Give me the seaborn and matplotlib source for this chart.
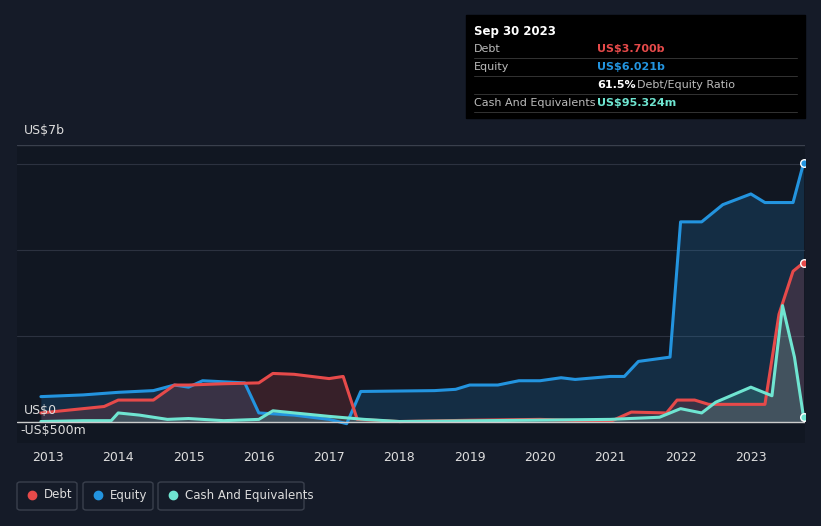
import numpy as np
import pandas as pd
import matplotlib.pyplot as plt
import seaborn as sns
from matplotlib.patches import FancyBboxPatch

eq_t = [2012.9, 2013.5, 2014.0, 2014.5, 2014.8, 2015.0, 2015.2, 2015.8, 2016.0, 2016.5, 2017.0, 2017.25,
        2017.45, 2018.5, 2018.8, 2019.0, 2019.4, 2019.7, 2020.0, 2020.3, 2020.5, 2021.0, 2021.2, 2021.4,
        2021.85, 2022.0, 2022.3, 2022.6, 2023.0, 2023.2, 2023.6, 2023.75]
eq_v = [0.58, 0.62, 0.68, 0.72, 0.85, 0.8, 0.95, 0.9, 0.2, 0.15, 0.05, -0.05,
        0.7, 0.72, 0.75, 0.85, 0.85, 0.95, 0.95, 1.02, 0.98, 1.05, 1.05, 1.4,
        1.5, 4.65, 4.65, 5.05, 5.3, 5.1, 5.1, 6.02]
debt_t = [2012.9, 2013.5, 2013.8, 2014.0, 2014.5, 2014.8, 2015.0, 2015.5, 2016.0, 2016.2, 2016.5, 2017.0,
          2017.2, 2017.4, 2018.0, 2019.0, 2020.0, 2021.0, 2021.3, 2021.8, 2021.95, 2022.2, 2022.4,
          2023.2, 2023.4, 2023.6, 2023.75]
debt_v = [0.2, 0.3, 0.35, 0.5, 0.5, 0.85, 0.85, 0.88, 0.9, 1.12, 1.1, 1.0,
          1.05, 0.05, 0.0, 0.03, 0.05, 0.0, 0.22, 0.2, 0.5, 0.5, 0.4,
          0.4, 2.5, 3.5, 3.7]
cash_t = [2012.9, 2013.5, 2013.9, 2014.0, 2014.3, 2014.7, 2015.0, 2015.5, 2016.0, 2016.2, 2017.0, 2017.5,
          2018.0, 2021.0, 2021.7, 2022.0, 2022.3, 2022.5, 2023.0, 2023.3, 2023.45, 2023.62, 2023.75]
cash_v = [0.0, 0.02, 0.02, 0.2, 0.15, 0.05, 0.07, 0.02, 0.05, 0.25, 0.12, 0.05,
          0.0, 0.05, 0.1, 0.3, 0.2, 0.45, 0.8, 0.6, 2.7, 1.5, 0.095]
years = list(range(2013, 2024))

bg = "#151b28"
plot_bg = "#111722"
c_debt, c_eq, c_cash = "#e64a4a", "#2394df", "#6fe5d1"

sns.set_theme(style="dark")
plt.rcParams['font.family'] = ['DejaVu Sans']
fig = plt.figure(figsize=(8.21, 5.26), dpi=100, facecolor=bg)
ax = fig.add_axes([17/821, 1-443/526, (805-17)/821, (443-145)/526])
ax.set_facecolor(plot_bg)

series = [(eq_t, eq_v, c_eq), (debt_t, debt_v, c_debt), (cash_t, cash_v, c_cash)]
for t, v, c in series:
    df = pd.DataFrame({"t": t, "v": v})
    sns.lineplot(data=df, x="t", y="v", ax=ax, color=c, lw=2.2)
    ax.fill_between(t, v, 0, color=c, alpha=0.18, lw=0)
    ax.scatter([t[-1]], [v[-1]], color=c, s=30, zorder=5, edgecolor="white", lw=1)

ax.set_xlim(2012.56, 2023.77)
ax.set_ylim(-0.5, 6.44)
ax.set_yticks([0, 2, 4, 6])
ax.set_yticklabels([])
ax.set_xticks(years)
ax.set_xticklabels([str(y) for y in years], color="#dddddd", fontsize=9)
ax.tick_params(axis="x", length=0, pad=6)
ax.set_xlabel("")
ax.set_ylabel("")
ax.grid(axis="y", color="#2c3240", lw=0.8)
ax.axhline(0, color="#cccccc", lw=1)
for s in ax.spines.values():
    s.set_visible(False)
ax.axhline(6.44, color="#3a404d", lw=1)

fig.text(24/821, 1-131/526, "US$7b", color="#dddddd", fontsize=9, va="center")
fig.text(24/821, 1-410/526, "US$0", color="#dddddd", fontsize=9, va="center")
fig.text(20/821, 1-431/526, "-US$500m", color="#dddddd", fontsize=9, va="center")

# tooltip
fig.patches.append(plt.Rectangle((466/821, 1-118/526), 339/821, 103/526, transform=fig.transFigure,
                                 color="black", zorder=10))
rows = [("Debt", "US$3.700b", c_debt, ""), ("Equity", "US$6.021b", c_eq, ""),
        ("", "61.5%", "white", "Debt/Equity Ratio"), ("Cash And Equivalents", "US$95.324m", c_cash, "")]
fig.text(474/821, 1-31/526, "Sep 30 2023", color="white", fontsize=8.5, va="center", zorder=11, weight="bold")
for i, (lab, val, col, extra) in enumerate(rows):
    y = 1 - (49 + i * 18) / 526
    fig.text(474/821, y, lab, color="#bbbbbb", fontsize=8, va="center", zorder=11)
    fig.text(597/821, y, val, color=col, fontsize=8, va="center", zorder=11, weight="bold")
    if extra:
        fig.text(637/821, y, extra, color="#bbbbbb", fontsize=8, va="center", zorder=11)
    ly = 1 - (40 + i * 18 + 18) / 526
    fig.add_artist(plt.Line2D([474/821, 797/821], [ly, ly], color="#333333", lw=0.7, zorder=11))

# legend
for x0, w, lab, col in [(17, 60, "Debt", c_debt), (83, 70, "Equity", c_eq), (158, 146, "Cash And Equivalents", c_cash)]:
    fig.add_artist(FancyBboxPatch((x0/821, 1-510/526), w/821, 28/526, boxstyle="round,pad=0,rounding_size=0.004",
                                  transform=fig.transFigure, fc="none", ec="#3a404d", lw=1))
    fig.add_artist(plt.Line2D([(x0+15)/821], [1-495/526], marker="o", color=col, ms=6, transform=fig.transFigure))
    fig.text((x0+27)/821, 1-495/526, lab, color="#dddddd", fontsize=8.5, va="center")

fig.savefig("out.png", facecolor=bg)
